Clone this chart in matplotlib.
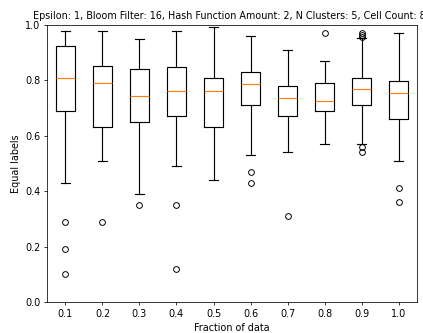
import matplotlib
matplotlib.use('Agg')
import matplotlib.pyplot as plt

# box statistics
fractions = ['0.1', '0.2', '0.3', '0.4', '0.5', '0.6', '0.7', '0.8', '0.9', '1.0']
whislo = [0.43, 0.51, 0.39, 0.49, 0.44, 0.53, 0.54, 0.57, 0.57, 0.51]
q1 = [0.69, 0.63, 0.65, 0.67, 0.63, 0.71, 0.67, 0.69, 0.71, 0.66]
med = [0.81, 0.79, 0.745, 0.76, 0.76, 0.786, 0.735, 0.725, 0.77, 0.755]
q3 = [0.924, 0.851, 0.84, 0.847, 0.81, 0.829, 0.78, 0.79, 0.81, 0.797]
whishi = [0.979, 0.979, 0.951, 0.979, 0.992, 0.961, 0.91, 0.87, 0.952, 0.97]
fliers = [
    [0.29, 0.19, 0.10],
    [0.29],
    [0.35],
    [0.35, 0.12],
    [],
    [0.47, 0.43],
    [0.31],
    [0.97],
    [0.97, 0.963, 0.957, 0.56, 0.54],
    [0.41, 0.36],
]

title = ('Epsilon: 1, Bloom Filter: 16, Hash Function Amount: 2, '
         'N Clusters: 5, Cell Count: 81')


def main():
    # the reference looks like a default-styled figure scaled down, so use a low dpi
    dpi = 69
    fig = plt.figure(figsize=(423 / dpi, 333 / dpi), dpi=dpi)
    ax = fig.add_axes([0.111, 0.093, 0.875, 0.832])

    stats = []
    for i in range(len(fractions)):
        stats.append({'label': fractions[i], 'whislo': whislo[i], 'q1': q1[i],
                      'med': med[i], 'q3': q3[i], 'whishi': whishi[i],
                      'fliers': fliers[i]})
    ax.bxp(stats, medianprops={'color': 'C1', 'linewidth': 1.2},
           boxprops={'linewidth': 1.2}, whiskerprops={'linewidth': 1.2},
           capprops={'linewidth': 1.2})

    ax.set_ylim(0.0, 1.0)
    ax.set_yticks([0.0, 0.2, 0.4, 0.6, 0.8, 1.0])
    ax.set_xlabel('Fraction of data')
    ax.set_ylabel('Equal labels')
    ax.set_title(title, fontsize=10)

    fig.savefig('out.png', dpi=dpi)
    plt.close()


if __name__ == '__main__':
    main()
